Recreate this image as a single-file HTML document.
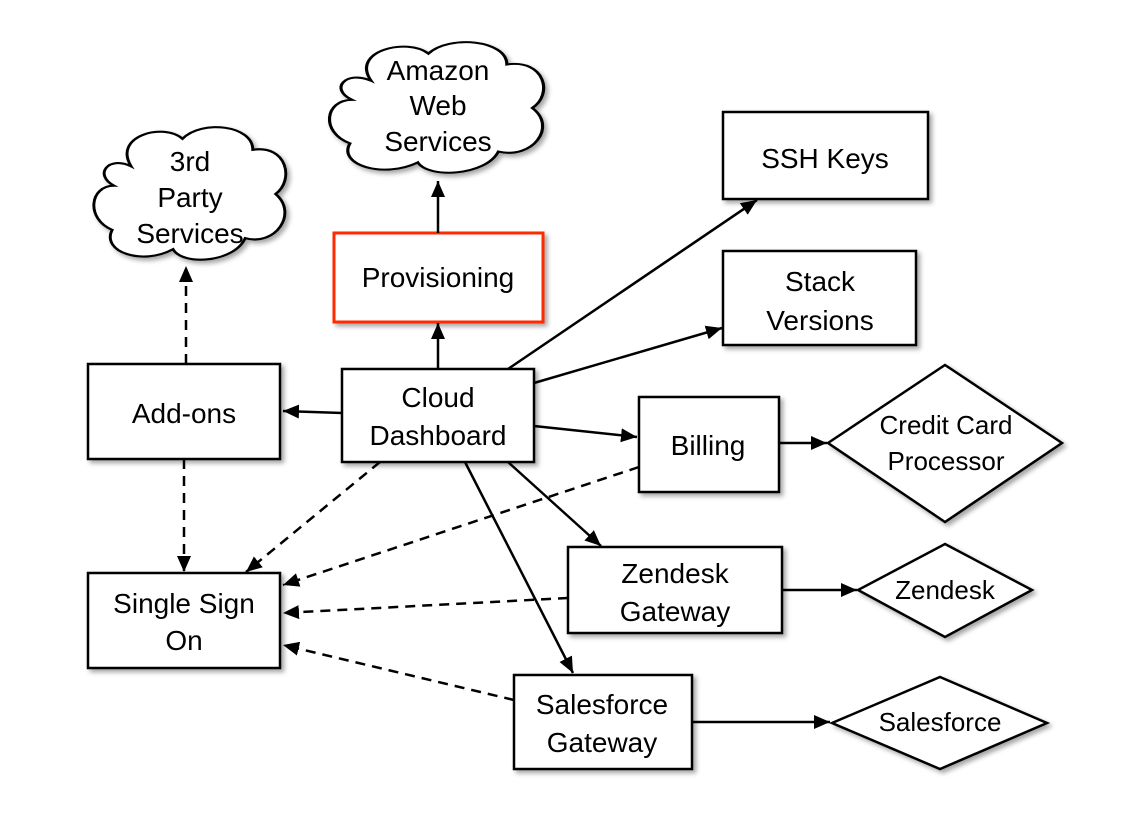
<!DOCTYPE html>
<html><head><meta charset="utf-8"><style>
html,body{margin:0;padding:0;background:#fff}
svg text{font-family:"Liberation Sans",sans-serif;font-size:28px;fill:#000;text-anchor:middle}
</style></head><body>
<svg width="1134" height="829" viewBox="0 0 1134 829" xmlns="http://www.w3.org/2000/svg">
<defs>
<marker id="b" viewBox="0 0 16 14" refX="16" refY="7" markerWidth="16" markerHeight="14" markerUnits="userSpaceOnUse" orient="auto"><path d="M0,0 L16,7 L0,14 z" fill="#000"/></marker>
<filter id="s" x="-10%" y="-10%" width="130%" height="130%"><feDropShadow dx="3" dy="3" stdDeviation="2.5" flood-color="#000" flood-opacity="0.35"/></filter>
<path id="cl" d="M18,30 C 8,8 35,-2 45,10 C 55,-4 82,0 82,18 C 100,14 104,40 94,50 C 106,64 94,88 78,82 C 72,100 45,102 40,90 C 24,102 2,92 8,76 C -6,68 -4,44 9,44 C -2,36 6,22 18,30 Z"/>
</defs>
<g fill="#fff" stroke="#000" stroke-width="2.5" filter="url(#s)">
<g transform="translate(333,40) scale(2.12,1.36)"><use href="#cl" style="stroke-width:1.5"/></g>
<g transform="translate(97,125) scale(1.9,1.38)"><use href="#cl" style="stroke-width:1.55"/></g>
<rect x="723" y="112" width="205" height="87"/>
<rect x="723" y="251" width="193" height="94"/>
<rect x="342" y="369" width="192" height="93"/>
<rect x="88" y="364" width="192" height="95"/>
<rect x="639" y="397" width="140" height="95"/>
<polygon points="945,365 1062,443 945,522 828,443"/>
<rect x="568" y="547" width="214" height="86"/>
<polygon points="945,544 1032,590 945,637 858,590"/>
<rect x="88" y="573" width="192" height="95"/>
<rect x="514" y="675" width="178" height="94"/>
<polygon points="940,677 1047,723 940,769 832,723"/>
<rect x="334" y="233" width="209" height="89" stroke="#ff2a00" stroke-width="3"/>
</g>
<g stroke="#000" stroke-width="2.5" fill="none" marker-end="url(#b)">
<line x1="438" y1="233" x2="438" y2="181"/>
<line x1="438" y1="369" x2="438" y2="323"/>
<line x1="342" y1="413" x2="283" y2="411"/>
<line x1="508" y1="369" x2="757" y2="200"/>
<line x1="534" y1="383" x2="722" y2="328"/>
<line x1="534" y1="426" x2="637" y2="437"/>
<line x1="508" y1="462" x2="601" y2="546"/>
<line x1="465" y1="462" x2="573" y2="673"/>
<line x1="779" y1="443" x2="827" y2="443"/>
<line x1="782" y1="590" x2="857" y2="590"/>
<line x1="692" y1="722" x2="830" y2="722"/>
</g>
<g stroke="#000" stroke-width="2.5" fill="none" stroke-dasharray="10,7" marker-end="url(#b)">
<line x1="380" y1="462" x2="246" y2="572"/>
<line x1="186" y1="364" x2="186" y2="266"/>
<line x1="184" y1="459" x2="184" y2="572"/>
<line x1="639" y1="467" x2="283" y2="585"/>
<line x1="568" y1="598" x2="283" y2="613"/>
<line x1="514" y1="700" x2="283" y2="645"/>
</g>
<text x="438" y="80">Amazon</text><text x="438" y="115">Web</text><text x="438" y="151">Services</text>
<text x="190" y="171">3rd</text><text x="190" y="207">Party</text><text x="190" y="243">Services</text>
<text x="825" y="168">SSH Keys</text>
<text x="820" y="291">Stack</text><text x="820" y="330">Versions</text>
<text x="438" y="287">Provisioning</text>
<text x="438" y="407">Cloud</text><text x="438" y="445">Dashboard</text>
<text x="184" y="423">Add-ons</text>
<text x="708" y="455">Billing</text>
<text x="946" y="434" style="font-size:26px">Credit Card</text><text x="946" y="470" style="font-size:26px">Processor</text>
<text x="675" y="583">Zendesk</text><text x="675" y="621">Gateway</text>
<text x="945" y="599" style="font-size:26px">Zendesk</text>
<text x="184" y="613">Single Sign</text><text x="184" y="650">On</text>
<text x="602" y="714">Salesforce</text><text x="602" y="752">Gateway</text>
<text x="940" y="731" style="font-size:26px">Salesforce</text>
</svg>
</body></html>
